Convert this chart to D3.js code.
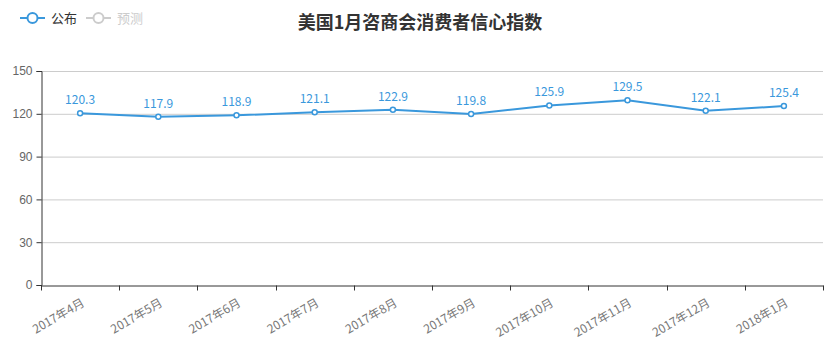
<!DOCTYPE html>
<html><head><meta charset="utf-8">
<script src="https://cdn.jsdelivr.net/npm/d3@7/dist/d3.min.js"></script>
<style>body{margin:0;background:#fff;}svg{display:block;font-family:"Noto Sans CJK SC","Microsoft YaHei",sans-serif;}</style>
</head><body><svg id="c" width="840" height="347"></svg>
<script>
const categories = ["2017年4月","2017年5月","2017年6月","2017年7月","2017年8月","2017年9月","2017年10月","2017年11月","2017年12月","2018年1月"];
const published = [120.3,117.9,118.9,121.1,122.9,119.8,125.9,129.5,122.1,125.4];
const yTicks = [0,30,60,90,120,150];
const title = "美国1月咨商会消费者信心指数";
const legendNames = ["公布","预测"];

const svg = d3.select("#c");
const m = {l:41, r:823, t:71, b:285};
const x = d3.scaleBand().domain(categories).range([m.l, m.r]);
const y = d3.scaleLinear().domain([0,150]).range([m.b, m.t]);
const blue = "#3a98dc";

// grid
svg.append("g").selectAll("line").data(yTicks.filter(d=>d>0)).join("line")
  .attr("x1", m.l).attr("x2", m.r).attr("y1", d=>y(d)+0.5).attr("y2", d=>y(d)+0.5)
  .attr("stroke", "#ccc");

// y axis
const ya = svg.append("g").attr("transform", `translate(${m.l+0.5},0)`)
  .call(d3.axisLeft(y).tickValues(yTicks).tickSize(5).tickPadding(4));
ya.select(".domain").attr("stroke", "#333");
ya.selectAll(".tick line").attr("stroke", "#333");
ya.selectAll("text").attr("fill", "#666").style("font-size", "12px").style("font-family", "inherit");

// x axis
const xa = svg.append("g").attr("transform", `translate(0,${m.b+0.5})`)
  .call(d3.axisBottom(x).tickSize(0).tickFormat(""));
xa.select(".domain").attr("stroke", "#333");
const bounds = categories.map(c=>x(c)).concat([m.r]);
xa.append("g").selectAll("line").data(bounds).join("line")
  .attr("x1", d=>Math.round(d)+0.5).attr("x2", d=>Math.round(d)+0.5).attr("y1",0).attr("y2",5).attr("stroke","#333");
svg.append("g").selectAll("text").data(categories).join("text")
  .attr("transform", d=>`translate(${x(d)+x.bandwidth()/2+1},${m.b+13}) rotate(-30)`)
  .attr("text-anchor","end").attr("dy","0.7em")
  .attr("fill","#777").style("font-size","12px").text(d=>d);

// line
const cx = d=>x(d)+x.bandwidth()/2;
const line = d3.line().x((d,i)=>cx(categories[i])).y(d=>y(d));
svg.append("path").datum(published).attr("d", line).attr("fill","none")
  .attr("stroke", blue).attr("stroke-width", 2);
svg.append("g").selectAll("circle").data(published).join("circle")
  .attr("cx",(d,i)=>cx(categories[i])).attr("cy", d=>y(d)).attr("r",2.5)
  .attr("fill","#fff").attr("stroke",blue).attr("stroke-width",1.5);
svg.append("g").selectAll("text").data(published).join("text")
  .attr("x",(d,i)=>cx(categories[i])).attr("y", d=>y(d)-9)
  .attr("text-anchor","middle").attr("fill",blue).style("font-size","12px")
  .text(d=>d.toFixed(1));

// title
svg.append("text").attr("x",420).attr("y",29).attr("text-anchor","middle")
  .attr("fill","#333").style("font-size","18px").style("font-weight","bold").text(title);

// legend
const lg = svg.append("g");
const lcol = [blue, "#ccc"], tcol = ["#333","#ccc"], lx = [20, 86];
legendNames.forEach((n,i)=>{
  const g = lg.append("g").attr("transform",`translate(${lx[i]},18)`);
  g.append("line").attr("x1",0).attr("x2",25).attr("stroke",lcol[i]).attr("stroke-width",2);
  g.append("circle").attr("cx",12.5).attr("r",5).attr("fill","#fff").attr("stroke",lcol[i]).attr("stroke-width",2);
  g.append("text").attr("x",31).attr("dy","0.35em").attr("fill",tcol[i]).style("font-size","13px").text(n);
});
</script></body></html>
